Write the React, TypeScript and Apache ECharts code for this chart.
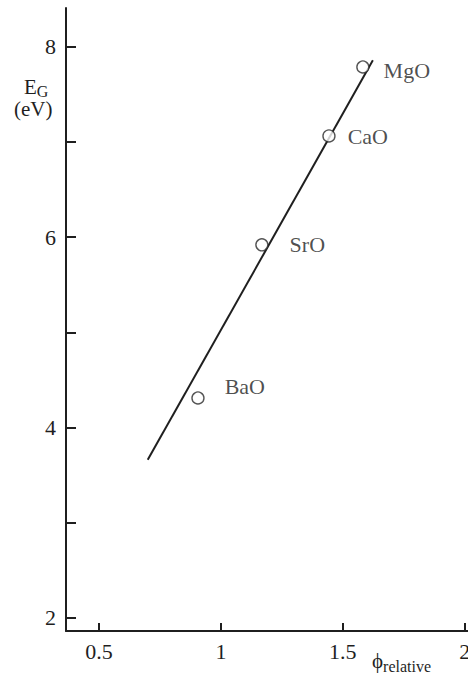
import React, { useEffect, useRef } from "react";
import * as echarts from "echarts";

// Band gap vs relative work function for alkaline-earth oxides
const compounds = ["MgO", "CaO", "SrO", "BaO"];
const phiRelative = [1.582, 1.443, 1.168, 0.906];
const bandGap = [7.79, 7.065, 5.92, 4.31];

// Straight-line fit drawn through the points
const fitPhi = [0.7, 1.623];
const fitGap = [3.66, 7.86];

const xTicks = [0.5, 1, 1.5, 2];
const yTicks = [2, 3, 4, 5, 6, 7, 8];
const yTickLabels = [2, 4, 6, 8];

// Per-label nudges (px) for the compound names
const labelOffsets: Record<string, [number, number]> = {
  MgO: [9, 4],
  CaO: [7, 1],
  SrO: [16, 0],
  BaO: [15, -11],
};

const FONT = "'Liberation Serif', 'Times New Roman', serif";
const INK = "#1f1f1f";

export default function App() {
  const ref = useRef<HTMLDivElement>(null);

  useEffect(() => {
    if (!ref.current) return;
    const chart = echarts.init(ref.current, null, { renderer: "svg" });

    const points = compounds.map((name, i) => ({
      name,
      value: [phiRelative[i], bandGap[i]],
      label: {
        show: true,
        position: "right" as const,
        formatter: name,
        offset: labelOffsets[name],
      },
    }));

    chart.setOption({
      animation: false,
      backgroundColor: "#ffffff",
      grid: {
        left: 66,
        right: 0,
        top: 8,
        bottom: 42,
        containLabel: false,
        outerBoundsMode: "none",
      },
      xAxis: {
        type: "value",
        min: 0.365,
        max: 2.013,
        axisLine: { show: true, onZero: false, lineStyle: { color: INK, width: 2 } },
        axisTick: {
          show: true,
          inside: true,
          length: 8,
          customValues: xTicks,
          lineStyle: { color: INK, width: 2 },
        },
        axisLabel: {
          show: true,
          customValues: xTicks,
          margin: 9,
          color: INK,
          fontFamily: FONT,
          fontSize: 22,
          hideOverlap: false,
          formatter: (v: number) => String(v),
        },
        splitLine: { show: false },
      },
      yAxis: {
        type: "value",
        min: 1.86,
        max: 8.41,
        axisLine: { show: true, onZero: false, lineStyle: { color: INK, width: 2 } },
        axisTick: {
          show: true,
          inside: true,
          length: 10,
          customValues: yTicks,
          lineStyle: { color: INK, width: 2 },
        },
        axisLabel: {
          show: true,
          customValues: yTickLabels,
          margin: 10,
          color: INK,
          fontFamily: FONT,
          fontSize: 22,
          formatter: (v: number) => String(v),
        },
        splitLine: { show: false },
      },
      series: [
        {
          type: "line",
          data: fitPhi.map((x, i) => [x, fitGap[i]]),
          symbol: "none",
          lineStyle: { color: INK, width: 2 },
          z: 2,
        },
        {
          type: "scatter",
          data: points,
          symbol: "circle",
          symbolSize: 12,
          itemStyle: { color: "#ffffff", borderColor: "#2a2a2a", borderWidth: 1.4 },
          label: {
            color: INK,
            fontFamily: FONT,
            fontSize: 22,
          },
          z: 3,
        },
      ],
      graphic: [
        {
          // y-axis title: E with subscript G, units on the line below
          type: "text",
          left: 14,
          top: 75,
          style: {
            text: "{e|E}{g|G}\n{u|(eV)}",
            fill: INK,
            align: "left",
            rich: {
              e: { font: `21px ${FONT}`, fill: INK, lineHeight: 21, padding: [0, 0, 0, 10] },
              g: { font: `16px ${FONT}`, fill: INK, lineHeight: 16, padding: [8, 0, 0, 0] },
              u: { font: `21px ${FONT}`, fill: INK, lineHeight: 23 },
            },
          },
        },
        {
          type: "text",
          left: 372,
          top: 648,
          style: {
            text: "{p|ϕ}{s|relative}",
            fill: INK,
            rich: {
              p: { font: `21px ${FONT}`, fill: INK, lineHeight: 22 },
              s: { font: `16px ${FONT}`, fill: INK, lineHeight: 22, padding: [10, 0, 0, 0] },
            },
          },
        },
      ],
    });

    return () => chart.dispose();
  }, []);

  return (
    <div
      ref={ref}
      style={{ position: "fixed", left: 0, top: 0, width: 468, height: 673, background: "#fff" }}
    />
  );
}
